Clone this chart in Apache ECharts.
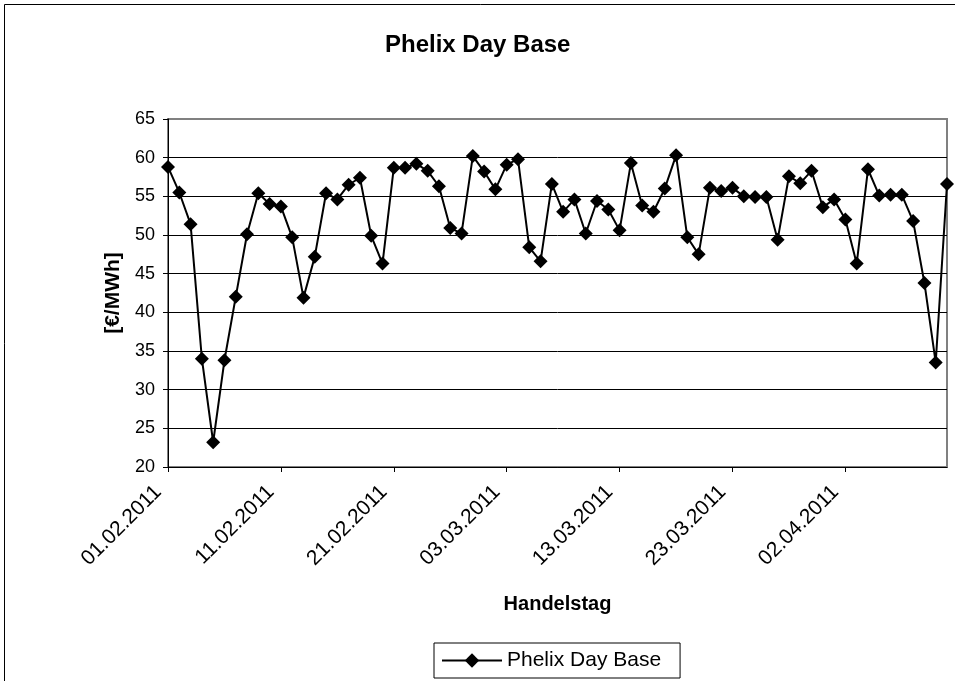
<!DOCTYPE html>
<html>
<head>
<meta charset="utf-8">
<script src="https://cdn.jsdelivr.net/npm/echarts@6/dist/echarts.min.js"></script>
<style>
html,body{margin:0;padding:0;background:#fff;}
#chart{width:955px;height:681px;}
</style>
</head>
<body>
<div id="chart"></div>
<script>
// Trading days (categories)
const categories = [
  "01.02.2011","02.02.2011","03.02.2011","04.02.2011","05.02.2011","06.02.2011","07.02.2011","08.02.2011","09.02.2011","10.02.2011",
  "11.02.2011","12.02.2011","13.02.2011","14.02.2011","15.02.2011","16.02.2011","17.02.2011","18.02.2011","19.02.2011","20.02.2011",
  "21.02.2011","22.02.2011","23.02.2011","24.02.2011","25.02.2011","26.02.2011","27.02.2011","28.02.2011","01.03.2011","02.03.2011",
  "03.03.2011","04.03.2011","05.03.2011","06.03.2011","07.03.2011","08.03.2011","09.03.2011","10.03.2011","11.03.2011","12.03.2011",
  "13.03.2011","14.03.2011","15.03.2011","16.03.2011","17.03.2011","18.03.2011","19.03.2011","20.03.2011","21.03.2011","22.03.2011",
  "23.03.2011","24.03.2011","25.03.2011","26.03.2011","27.03.2011","28.03.2011","29.03.2011","30.03.2011","31.03.2011","01.04.2011",
  "02.04.2011","03.04.2011","04.04.2011","05.04.2011","06.04.2011","07.04.2011","08.04.2011","09.04.2011","10.04.2011","11.04.2011"
];

// Phelix Day Base [€/MWh]
const phelixDayBase = [
  58.8, 55.5, 51.4, 34.0, 23.2, 33.8, 42.0, 50.1, 55.4, 54.0,
  53.7, 49.7, 41.9, 47.2, 55.4, 54.6, 56.5, 57.4, 49.9, 46.3,
  58.7, 58.7, 59.2, 58.3, 56.3, 50.9, 50.2, 60.2, 58.2, 55.9,
  59.1, 59.8, 48.4, 46.6, 56.6, 53.0, 54.6, 50.2, 54.4, 53.3,
  50.6, 59.3, 53.8, 53.0, 56.0, 60.3, 49.7, 47.5, 56.1, 55.7,
  56.1, 55.0, 54.9, 54.9, 49.4, 57.6, 56.7, 58.3, 53.6, 54.6,
  52.0, 46.3, 58.5, 55.1, 55.2, 55.2, 51.8, 43.8, 33.5, 56.6
];

// Value axis ticks
const yMin = 20;
const yMax = 65;
const yStep = 5;

const FONT = "'Liberation Sans', Arial, sans-serif";

const chart = echarts.init(document.getElementById('chart'), null, {renderer: 'canvas'});

const splitColors = [];
for (let v = yMin; v <= yMax; v += yStep) splitColors.push(v === yMax ? '#808080' : '#000000');

chart.setOption({
  animation: false,
  backgroundColor: '#ffffff',
  title: {
    text: 'Phelix Day Base',
    left: 385,
    top: 33,
    padding: 0,
    textStyle: {fontFamily: FONT, fontSize: 24, fontWeight: 'bold', color: '#000'}
  },
  graphic: [{
    type: 'rect',
    shape: {x: 4.5, y: 4.5, width: 1200, height: 1200},
    style: {fill: null, stroke: '#000', lineWidth: 1},
    silent: true,
    z: -10
  }],
  legend: {
    data: ['Phelix Day Base'],
    left: 434,
    top: 643,
    padding: [7, 19, 7, 7],
    borderColor: '#000',
    borderWidth: 1,
    itemWidth: 60,
    itemHeight: 18,
    itemGap: 6,
    textStyle: {fontFamily: FONT, fontSize: 21, color: '#000'}
  },
  grid: {
    left: 168, right: 8, top: 119, bottom: 214,
    show: true,
    borderColor: '#808080',
    borderWidth: 2,
    backgroundColor: '#ffffff'
  },
  xAxis: {
    type: 'category',
    data: categories,
    boundaryGap: false,
    name: 'Handelstag',
    nameLocation: 'middle',
    nameGap: 127,
    nameTextStyle: {fontFamily: FONT, fontSize: 20, fontWeight: 'bold', color: '#000', verticalAlign: 'top'},
    axisLine: {show: true, lineStyle: {color: '#000', width: 1}},
    axisTick: {show: true, interval: 9, length: 5, inside: false, alignWithLabel: true, lineStyle: {color: '#000'}},
    axisLabel: {interval: 9, rotate: 45, margin: 12, padding: [0, 14, 0, 0], fontFamily: FONT, fontSize: 21, color: '#000'},
    splitLine: {show: false}
  },
  yAxis: {
    type: 'value',
    min: yMin,
    max: yMax,
    interval: yStep,
    name: '[€/MWh]',
    nameLocation: 'middle',
    nameRotate: 90,
    nameGap: 35,
    nameTextStyle: {fontFamily: FONT, fontSize: 21, fontWeight: 'bold', color: '#000'},
    axisLine: {show: true, lineStyle: {color: '#000', width: 1}},
    axisTick: {show: true, length: 5, inside: false, lineStyle: {color: '#000'}},
    axisLabel: {margin: 13, fontFamily: FONT, fontSize: 18, color: '#000'},
    splitLine: {show: true, lineStyle: {color: splitColors, width: 1}}
  },
  series: [{
    name: 'Phelix Day Base',
    type: 'line',
    data: phelixDayBase,
    symbol: 'diamond',
    symbolSize: 14,
    showAllSymbol: true,
    lineStyle: {color: '#000', width: 2},
    itemStyle: {color: '#000'},
    z: 5
  }]
});
</script>
</body>
</html>
